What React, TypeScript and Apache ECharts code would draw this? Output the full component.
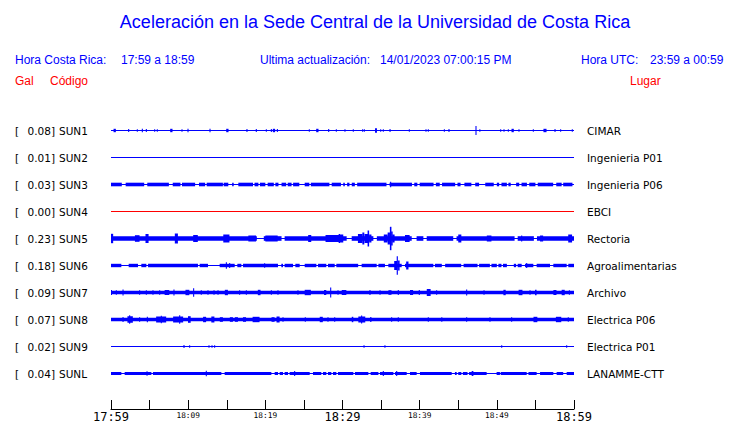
import React, { useEffect, useRef } from "react";
import * as echarts from "echarts";

// ---------- data ----------
const STATIONS = ["SUN1", "SUN2", "SUN3", "SUN4", "SUN5", "SUN6", "SUN7", "SUN8", "SUN9", "SUNL"];
const PEAK_GAL = ["0.08", "0.01", "0.03", "0.00", "0.23", "0.18", "0.09", "0.07", "0.02", "0.04"];
const PLACES = ["CIMAR", "Ingenieria P01", "Ingenieria P06", "EBCI", "Rectoria", "Agroalimentarias", "Archivo", "Electrica P06", "Electrica P01", "LANAMME-CTT"];
const TRACE_COLORS = ["#0000ff", "#0000ff", "#0000ff", "#ff0000", "#0000ff", "#0000ff", "#0000ff", "#0000ff", "#0000ff", "#0000ff"];

const TICK_MINUTES = [0, 10, 20, 30, 40, 50, 60];
const TICK_LABELS = ["17:59", "18:09", "18:19", "18:29", "18:39", "18:49", "18:59"];
const BIG_TICK_MINUTES = [0, 30, 60];

// Envelope of each trace (minutes since 17:59, half-thickness in plot units)
// line: thin trace half-thickness; band: half-thickness of the busy band
// bands: [start, end] of busy band; gaps: [start, end] where only the thin line shows
// spikes: [minute, half amplitude, width in minutes?]
const SUN1_SPIKES = [[0.48, 1.7, 0.3], [2.29, 1.5], [3.41, 1.3], [4.06, 1.7], [4.58, 1.5], [5.66, 1.3], [6.0, 1.3], [7.82, 1.7, 0.3], [9.2, 1.3], [9.98, 1.7], [12.83, 1.7], [15.08, 1.7, 0.3], [17.62, 1.5], [18.83, 1.5], [20.13, 1.3], [20.78, 1.5], [21.12, 1.7, 0.3], [21.56, 1.5], [25.7, 1.3], [26.74, 1.7, 0.3], [28.21, 1.5], [29.2, 1.3], [30.32, 1.3], [31.4, 1.3], [32.61, 1.3], [32.83, 1.3], [34.34, 2.2, 0.25], [34.95, 1.3], [35.29, 1.3], [36.16, 1.5], [38.66, 1.3], [40.82, 1.3], [41.12, 1.3], [43.2, 1.3], [43.8, 1.5], [47.3, 4.5], [47.8, 1.3], [50.5, 1.3], [50.93, 1.3], [51.49, 1.3], [52.05, 1.7, 0.3], [52.87, 1.3], [54.73, 1.3], [56.24, 1.7, 0.4], [57.54, 1.5], [58.27, 1.3], [59.78, 1.3]];

const SUN3_BANDS = [[0, 1.4], [1.9, 4.3], [4.7, 7.5], [8.0, 9.0], [9.2, 10.9], [11.4, 12.2], [12.4, 14.5], [14.6, 15.2], [15.7, 15.9], [16.5, 18.4], [18.6, 19.1], [19.3, 20.0], [20.3, 21.1], [21.3, 21.7], [22.1, 22.7], [22.9, 23.4], [23.6, 24.4], [25.1, 25.7], [25.9, 28.3], [28.6, 29.8], [30.1, 30.3], [30.6, 30.9], [31.2, 31.6], [31.9, 35.7], [36.1, 39.0], [39.3, 39.7], [40.0, 41.8], [42.1, 42.6], [42.9, 44.6], [44.9, 45.3], [45.8, 46.7], [47.2, 47.7], [48.5, 49.6], [50.0, 50.3], [50.6, 51.3], [51.5, 51.8], [52.5, 52.9], [53.2, 53.9], [54.2, 55.0], [55.3, 57.3], [57.7, 58.4], [58.6, 59.8]];
const SUN3_SPIKES = [[36.24, 2.7]];

const SUN5_GAPS = [[18.9, 19.8], [22.1, 22.5], [30.54, 31.19], [34.0, 34.45], [38.97, 39.6], [40.48, 40.91], [44.35, 44.78], [52.3, 52.7], [54.8, 55.2]];
const SUN5_SPIKES = [[0.13, 4.7, 0.3], [3.4, 3.3, 0.6], [4.67, 4.5, 0.4], [8.47, 5, 0.4], [10.95, 3.5, 0.6], [14.95, 4, 0.8], [18.3, 3, 1.0], [20.8, 3, 1.6], [25.75, 3.5, 0.4], [28.8, 3.5, 2.0], [29.6, 4.5, 0.2], [29.9, 4, 0.4], [32.3, 4.5, 0.6], [32.7, 6, 0.25], [33.1, 4.5, 0.5], [33.35, 8, 0.2], [33.6, 4, 0.3], [35.6, 4, 0.5], [36.0, 6, 0.3], [36.24, 11.7, 0.2], [36.4, 7, 0.2], [36.6, 4, 0.3], [38.4, 3.5, 0.6], [45.2, 4, 0.4], [49.0, 3, 0.6], [53.22, 3], [55.8, 3, 0.4], [59.5, 4, 0.5]];

const SUN6_GAPS = [[1.34, 2.29], [3.5, 3.93], [4.58, 4.8], [11.27, 11.49], [12.57, 14.08], [16.03, 16.37], [16.89, 17.11], [21.64, 22.07], [22.29, 22.5], [23.59, 23.89], [24.45, 25.1], [26.61, 26.83], [27.9, 28.12], [28.99, 29.2], [32.03, 32.48], [34.43, 34.65], [35.5, 35.94], [37.67, 38.1], [41.77, 41.98], [42.87, 43.3], [45.38, 45.69], [47.5, 47.7], [49.1, 49.3], [50.0, 50.2], [50.6, 50.8], [51.3, 52.2], [52.5, 52.7], [53.22, 53.65], [54.73, 55.16], [56.89, 57.32], [59.05, 59.26]];
const SUN6_SPIKES = [[14.95, 3.3], [15.38, 2.5], [19.91, 2.2], [36.9, 4.5, 0.4], [37.1, 9.3, 0.15], [37.3, 5, 0.2], [38.4, 4, 0.3], [53.87, 2.5]];

const SUN7_SPIKES = [[0.04, 2.5], [0.69, 2.3], [1.56, 3], [3.71, 2.3], [4.58, 2.3], [5.44, 2.3], [6.31, 2.3], [7.25, 2.5, 0.6], [8.16, 3], [9.9, 2.7, 0.5], [10.71, 4.3], [11.7, 2.3], [12.57, 2.3], [13.35, 2.3], [13.87, 2.3], [14.95, 2.7, 0.4], [16.67, 2.3], [17.54, 2.3], [19.2, 2.7, 0.35], [20.78, 2.3], [21.64, 2.3], [24.23, 2.3], [25.5, 2.7, 0.8], [27.75, 2.5, 0.3], [28.47, 5], [29.42, 2.3], [30.2, 2.5, 0.6], [33.56, 2.5], [34.86, 2.3], [36.15, 2.3, 0.4], [37.23, 2.5], [38.95, 2.5, 0.4], [39.95, 2.5], [41.17, 3.5, 0.5], [42.2, 2.3], [46.09, 3], [48.34, 2.3], [51.0, 2.7, 0.3], [53.07, 2.7, 0.5], [54.3, 2.3], [55.05, 2.7, 0.2], [57.53, 2.5, 0.4], [58.6, 2.7, 0.4], [59.4, 2.3]];

const SUN8_SPIKES = [[1.56, 2.5], [2.48, 3.2, 0.7], [2.42, 4.3], [3.71, 2.3], [4.71, 2.7], [6.5, 3, 1.3], [6.52, 3.7], [8.7, 3, 1.3], [8.9, 4.3], [10.15, 3.3, 0.35], [12.13, 2.7, 0.4], [13.2, 3, 0.4], [14.3, 2.3, 0.4], [15.6, 2.3, 0.4], [16.25, 2.3, 0.4], [17.3, 2.3, 0.4], [18.8, 2.7, 0.9], [21.0, 2.3, 0.4], [21.65, 3, 0.4], [22.29, 2.3], [25.18, 2.3], [27.25, 2.7, 0.4], [28.12, 2.3], [28.99, 2.3], [31.3, 2.7, 0.2], [32.5, 3, 0.9], [32.48, 4], [33.66, 2.3, 0.2], [36.37, 2.3], [37.23, 2.3], [41.12, 2.3], [42.87, 2.3], [46.09, 2.3], [49.11, 2.3], [51.92, 2.3], [55.0, 2.7, 0.5], [58.0, 2.7, 0.7], [59.26, 2.3]];

const SUN9_SPIKES = [[9.46, 1.5], [10.19, 1.2], [12.7, 1.3], [13.09, 1.3], [13.43, 1.3], [32.79, 1.2], [35.5, 1.2], [50.63, 1.2], [59.05, 1.2]];

const SUNL_GAPS = [[1.34, 1.77], [5.23, 5.44], [14.3, 14.73], [20.78, 21.21], [21.64, 21.86], [22.29, 22.5], [22.94, 23.15], [25.75, 26.18], [27.25, 27.47], [27.9, 28.12], [28.55, 28.77], [29.2, 29.42], [31.4, 31.62], [33.35, 33.65], [34.65, 34.86], [36.59, 36.8], [38.32, 38.75], [39.61, 40.04], [44.15, 44.57], [44.8, 45.0], [45.4, 45.6], [46.2, 46.4], [48.68, 49.97], [50.4, 50.5], [53.87, 54.1], [55.16, 55.6], [57.32, 57.75], [58.6, 59.05]];
const SUNL_SPIKES = [[4.67, 2.3], [12.35, 2.7], [23.8, 2.5], [35.29, 2.5], [37.02, 2.5], [46.85, 2.5, 0.22]];

const WINDOW_MIN = 60;

type Trace = { line: number; band?: number; bands?: number[][]; gaps?: number[][]; spikes?: number[][] };

const TRACES: Trace[] = [
  { line: 0.5, spikes: SUN1_SPIKES },
  { line: 0.5 },
  { line: 0.5, band: 1.8, bands: SUN3_BANDS, spikes: SUN3_SPIKES },
  { line: 0.5 },
  { line: 0.5, band: 2.3, gaps: SUN5_GAPS, spikes: SUN5_SPIKES },
  { line: 0.5, band: 1.7, gaps: SUN6_GAPS, spikes: SUN6_SPIKES },
  { line: 0.5, band: 1.8, bands: [[0, WINDOW_MIN]], spikes: SUN7_SPIKES },
  { line: 0.5, band: 1.7, bands: [[0, WINDOW_MIN]], spikes: SUN8_SPIKES },
  { line: 0.5, spikes: SUN9_SPIKES },
  { line: 0.5, band: 1.5, gaps: SUNL_GAPS, spikes: SUNL_SPIKES },
];

const ROW_GAP = 27;
const SPIKE_W = 0.14;

function bandsFromGaps(gaps: number[][]): number[][] {
  const out: number[][] = [];
  let cur = 0;
  for (const [s, e] of gaps) {
    if (s > cur) out.push([cur, s]);
    cur = e;
  }
  if (cur < WINDOW_MIN) out.push([cur, WINDOW_MIN]);
  return out;
}

function traceItems(t: Trace, row: number): number[][] {
  const items: number[][] = [];
  items.push([0, WINDOW_MIN, row, t.line]);
  const bands = t.bands ?? (t.gaps ? bandsFromGaps(t.gaps) : []);
  for (const [s, e] of bands) items.push([s, e, row, t.band ?? t.line]);
  for (const sp of t.spikes ?? []) {
    const w = sp[2] ?? SPIKE_W;
    const s = Math.max(0, sp[0] - w / 2);
    const e = Math.min(WINDOW_MIN, sp[0] + w / 2);
    items.push([s, e, row, sp[1]]);
  }
  return items;
}

export default function App() {
  const ref = useRef<HTMLDivElement>(null);
  useEffect(() => {
    if (!ref.current) return;
    const chart = echarts.init(ref.current, undefined, { renderer: "svg" });

    const traceSeries = TRACES.map((t, i) => {
      const color = TRACE_COLORS[i];
      return {
        type: "custom",
        name: STATIONS[i],
        data: traceItems(t, i),
        encode: { x: [0, 1], y: 2 },
        clip: true,
        silent: true,
        renderItem: (params: any, api: any) => {
          const s = api.value(0), e = api.value(1), row = api.value(2), h = api.value(3);
          const yc = row * ROW_GAP;
          const p0 = api.coord([s, yc - h]);
          const p1 = api.coord([e, yc + h]);
          const x = p0[0];
          const w = Math.max(1, p1[0] - p0[0]);
          const y = Math.min(p0[1], p1[1]);
          const hh = Math.abs(p1[1] - p0[1]);
          return { type: "rect", shape: { x, y, width: w, height: hh }, style: { fill: color } };
        },
      };
    });

    const labelSeries = {
      type: "custom",
      name: "labels",
      data: STATIONS.map((_, i) => [0, i * ROW_GAP, i]),
      encode: { x: 0, y: 1 },
      clip: false,
      silent: true,
      renderItem: (params: any, api: any) => {
        const i = api.value(2);
        const y = api.coord([0, api.value(1)])[1];
        const base = { fontFamily: "DejaVu Sans", fontSize: 10.5, fill: "#000", verticalAlign: "middle" };
        return {
          type: "group",
          children: [
            { type: "text", x: 15, y, style: { ...base, text: "[", align: "left" } },
            { type: "text", x: 55, y, style: { ...base, text: PEAK_GAL[i] + "]", align: "right" } },
            { type: "text", x: 59, y, style: { ...base, text: STATIONS[i], align: "left" } },
            { type: "text", x: 587, y, style: { ...base, text: PLACES[i], align: "left" } },
          ],
        };
      },
    };

    const hdr = (text: string, x: number, y: number, fill: string, extra: any = {}) => ({
      type: "text",
      x,
      y,
      silent: true,
      style: { text, fill, fontFamily: "Liberation Sans", fontSize: 12, verticalAlign: "middle", align: "left", ...extra },
    });

    chart.setOption({
      animation: false,
      backgroundColor: "#ffffff",
      grid: { left: 111, right: 166, top: 120, bottom: 14, containLabel: false },
      xAxis: {
        type: "value",
        position: "bottom",
        min: 0,
        max: WINDOW_MIN,
        interval: 5,
        axisLine: { show: true, onZero: false, lineStyle: { color: "#000", width: 1 } },
        axisTick: { show: true, inside: true, length: 9, lineStyle: { color: "#000", width: 1 } },
        splitLine: { show: false },
        axisLabel: {
          show: true,
          margin: 1,
          showMinLabel: true,
          showMaxLabel: true,
          formatter: (v: number) => {
            const idx = TICK_MINUTES.indexOf(v);
            if (idx < 0) return "";
            return BIG_TICK_MINUTES.includes(v) ? `{big|${TICK_LABELS[idx]}}` : `{small|${TICK_LABELS[idx]}}`;
          },
          rich: {
            big: { fontFamily: "DejaVu Sans Mono", fontSize: 12, color: "#000", lineHeight: 14 },
            small: { fontFamily: "DejaVu Sans Mono", fontSize: 7.8, color: "#000", lineHeight: 10 },
          },
        },
      },
      yAxis: {
        type: "value",
        inverse: true,
        min: -10.5,
        max: 278.5,
        show: false,
      },
      graphic: [
        {
          type: "text",
          x: 375,
          y: 22,
          silent: true,
          style: {
            text: "Aceleración en la Sede Central de la Universidad de Costa Rica",
            fill: "#0000ff",
            fontFamily: "Liberation Sans",
            fontSize: 18,
            align: "center",
            verticalAlign: "middle",
          },
        },
        hdr("Hora Costa Rica:", 15, 60, "#0000ff"),
        hdr("17:59 a 18:59", 121, 60, "#0000ff"),
        hdr("Ultima actualización:", 260, 60, "#0000ff"),
        hdr("14/01/2023 07:00:15 PM", 380, 60, "#0000ff"),
        hdr("Hora UTC:", 581, 60, "#0000ff"),
        hdr("23:59 a 00:59", 650, 60, "#0000ff"),
        hdr("Gal", 15, 81, "#ff0000"),
        hdr("Código", 50, 81, "#ff0000"),
        hdr("Lugar", 630, 81, "#ff0000"),
      ],
      series: [...traceSeries, labelSeries],
    });

    return () => chart.dispose();
  }, []);

  return (
    <div
      ref={ref}
      style={{ position: "fixed", left: 0, top: 0, width: 740, height: 423, background: "#fff" }}
    />
  );
}
